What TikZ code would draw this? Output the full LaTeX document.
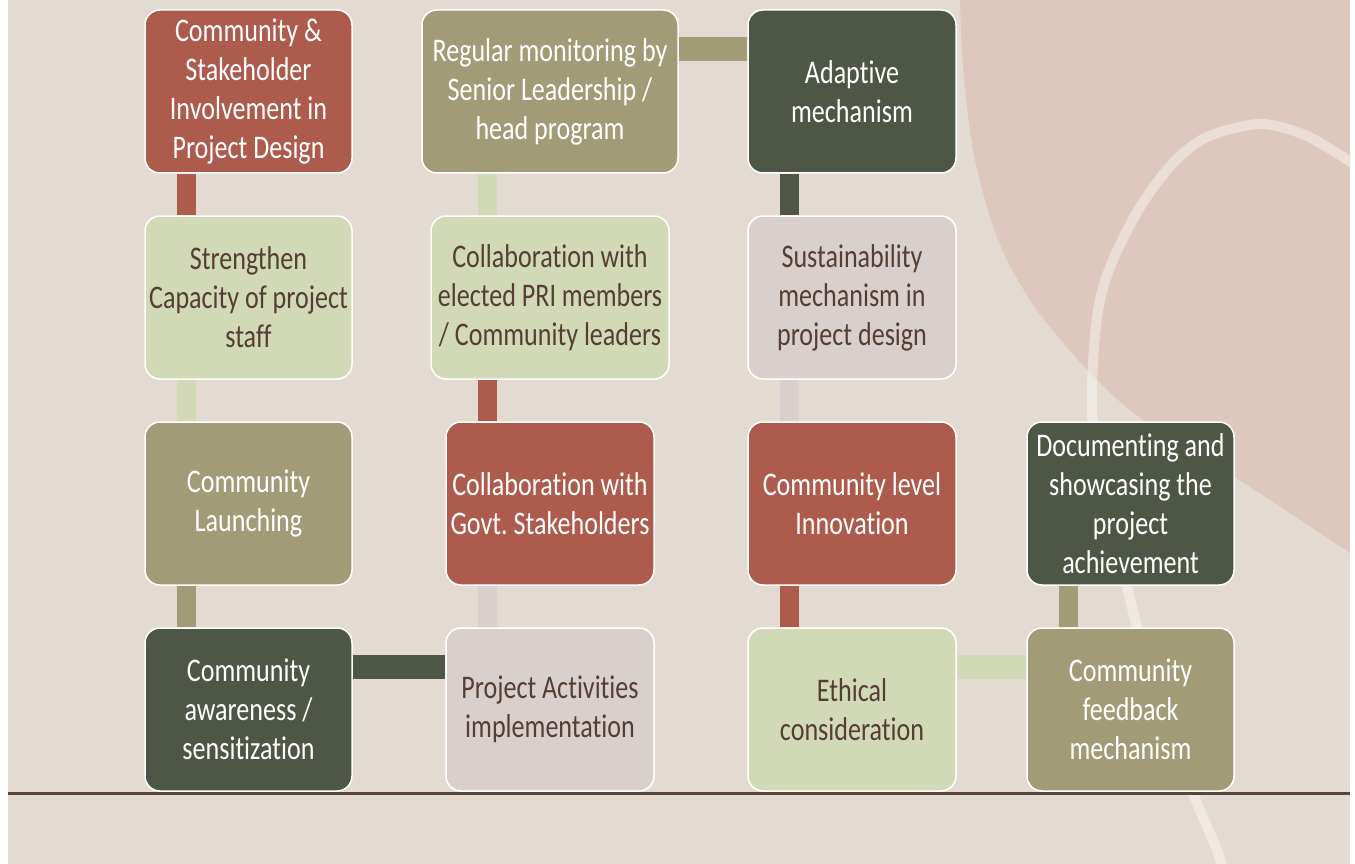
\documentclass[tikz,border=0pt]{standalone}
\usepackage{fontspec}
\setmainfont{Carlito}[FakeStretch=0.79, Ligatures=NoCommon]
\usetikzlibrary{calc}
\pgfdeclarelayer{bg}
\pgfdeclarelayer{back}
\pgfsetlayers{bg,back,main}
\definecolor{bgc}{HTML}{E3DBD1}
\definecolor{pinkc}{HTML}{DEC8BD}
\definecolor{redc}{HTML}{AD5B4C}
\definecolor{lgreenc}{HTML}{D2D9B7}
\definecolor{olivec}{HTML}{A19C77}
\definecolor{darkc}{HTML}{4E5746}
\definecolor{greyc}{HTML}{D9D0CE}
\definecolor{txtc}{HTML}{553E34}
\definecolor{linec}{HTML}{5B4537}
\frenchspacing
\tikzset{
  box/.style={draw=white, line width=1.5pt, rounded corners=15pt, minimum height=163pt,
    inner sep=0pt, align=center, font=\fontsize{33}{39}\selectfont},
  darkbox/.style={box, fill=#1, text=white},
  lightbox/.style={box, fill=#1, text=txtc},
  vbar/.style={line width=19pt, draw=#1},
  hbar/.style={line width=24pt, draw=#1},
}
\begin{document}
\begin{tikzpicture}[x=1pt, y=-1pt]
\useasboundingbox (0,0) rectangle (1355,864);
\begin{pgfonlayer}{bg}
\fill[white] (0,0) rectangle (1355,864);
\fill[bgc] (8,0) rectangle (1350,864);
\begin{scope}
\clip (8,0) rectangle (1350,864);
\fill[pinkc] plot[smooth] coordinates {(960,0) (963,67) (973,150) (990,217) (1007,260) (1030,300) (1050,327) (1090,373) (1143,420) (1250,487) (1350,553)} -- (1350,0) -- cycle;
\draw[white, opacity=0.4, line width=10pt] plot[smooth] coordinates {(1360,168) (1307,136) (1260,124) (1207,137) (1173,163) (1140,207) (1113,260) (1100,300) (1094,347) (1092,413) (1100,480) (1112,540) (1127,587) (1137,627) (1160,700) (1193,793) (1217,850) (1223,870)};
\end{scope}
\draw[linec, line width=2.5pt] (8,793.5) -- (1350,793.5);
\end{pgfonlayer}

% column 1
\node[darkbox=redc, minimum width=207pt] (c1r1) at (248.5,91.5) {Community \&\\Stakeholder\\Involvement in\\Project Design};
\node[lightbox=lgreenc, minimum width=207pt] (c1r2) at (248.5,297.5) {Strengthen\\Capacity of project\\staff};
\node[darkbox=olivec, minimum width=207pt] (c1r3) at (248.5,503.5) {Community\\Launching};
\node[darkbox=darkc, minimum width=207pt] (c1r4) at (248.5,709.5) {Community\\awareness /\\sensitization};
% column 2
\node[lightbox=greyc, minimum width=208pt] (c2r4) at (550,709.5) {Project Activities\\implementation};
\node[darkbox=redc, minimum width=208pt] (c2r3) at (550,503.5) {Collaboration with\\Govt. Stakeholders};
\node[lightbox=lgreenc, minimum width=238pt] (c2r2) at (550,297.5) {Collaboration with\\elected PRI members\\/ Community leaders};
\node[darkbox=olivec, minimum width=256pt] (c2r1) at (550,91.5) {Regular monitoring by\\Senior Leadership /\\head program};
% column 3
\node[darkbox=darkc, minimum width=208pt] (c3r1) at (852,91.5) {Adaptive\\mechanism};
\node[lightbox=greyc, minimum width=208pt] (c3r2) at (852,297.5) {Sustainability\\mechanism in\\project design};
\node[darkbox=redc, minimum width=208pt] (c3r3) at (852,503.5) {Community level\\Innovation};
\node[lightbox=lgreenc, minimum width=208pt] (c3r4) at (852,709.5) {Ethical\\consideration};
% column 4
\node[darkbox=olivec, minimum width=207pt] (c4r4) at (1130.5,709.5) {Community\\feedback\\mechanism};
\node[darkbox=darkc, minimum width=207pt] (c4r3) at (1130.5,503.5) {Documenting and\\showcasing the\\project\\achievement};

\begin{pgfonlayer}{back}
\draw[vbar=redc] ([xshift=-62.5pt]c1r1.south) -- ([xshift=-62.5pt]c1r2.north);
\draw[vbar=lgreenc] ([xshift=-62.5pt]c1r2.south) -- ([xshift=-62.5pt]c1r3.north);
\draw[vbar=olivec] ([xshift=-62.5pt]c1r3.south) -- ([xshift=-62.5pt]c1r4.north);
\draw[hbar=darkc] ([yshift=42.5pt]c1r4.east) -- ([yshift=42.5pt]c2r4.west);
\draw[vbar=greyc] ([xshift=-62.5pt]c2r4.north) -- ([xshift=-62.5pt]c2r3.south);
\draw[vbar=redc] ([xshift=-62.5pt]c2r3.north) -- ([xshift=-62.5pt]c2r2.south);
\draw[vbar=lgreenc] ([xshift=-62.5pt]c2r2.north) -- ([xshift=-62.5pt]c2r1.south);
\draw[hbar=olivec] ([yshift=42pt]c2r1.east) -- ([yshift=42pt]c3r1.west);
\draw[vbar=darkc] ([xshift=-62.5pt]c3r1.south) -- ([xshift=-62.5pt]c3r2.north);
\draw[vbar=greyc] ([xshift=-62.5pt]c3r2.south) -- ([xshift=-62.5pt]c3r3.north);
\draw[vbar=redc] ([xshift=-62.5pt]c3r3.south) -- ([xshift=-62.5pt]c3r4.north);
\draw[hbar=lgreenc] ([yshift=42.5pt]c3r4.east) -- ([yshift=42.5pt]c4r4.west);
\draw[vbar=olivec] ([xshift=-62pt]c4r4.north) -- ([xshift=-62pt]c4r3.south);
\end{pgfonlayer}
\end{tikzpicture}
\end{document}
